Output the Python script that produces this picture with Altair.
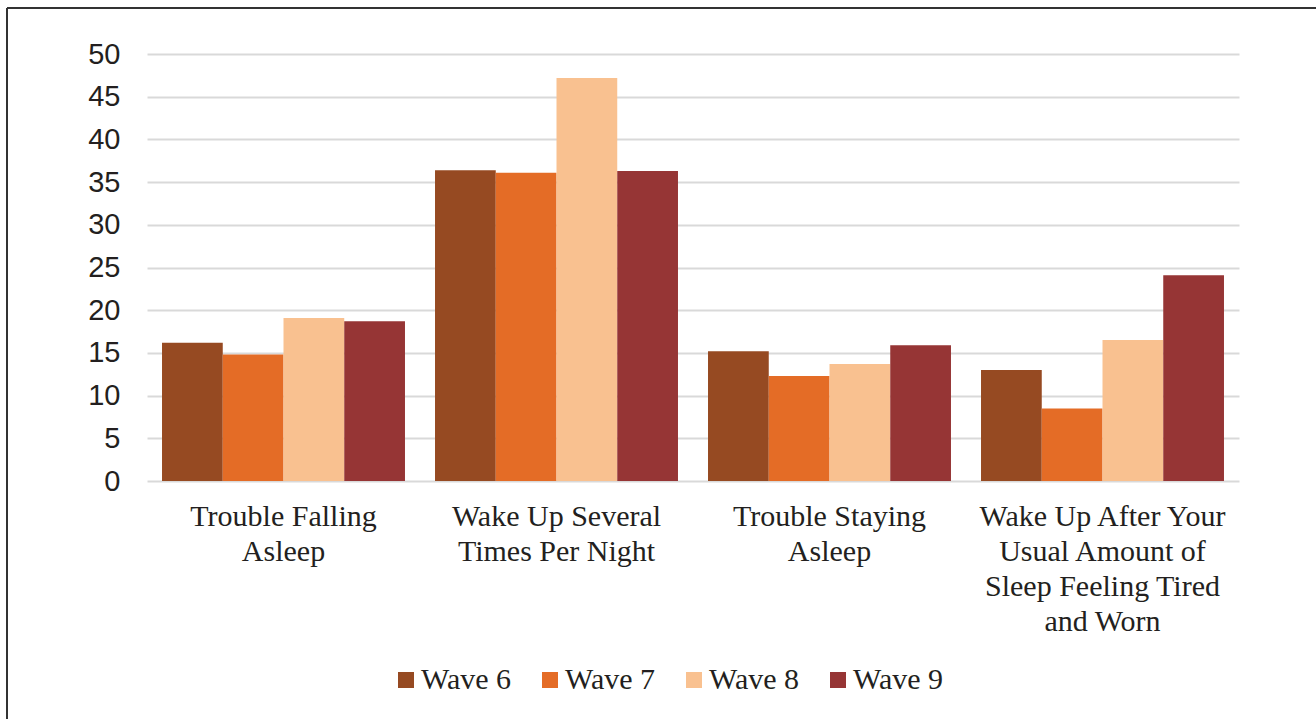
import altair as alt
import pandas as pd

categories = [
    "Trouble Falling Asleep",
    "Wake Up Several Times Per Night",
    "Trouble Staying Asleep",
    "Wake Up After Your Usual Amount of Sleep Feeling Tired and Worn",
]
label_lines = [
    ["Trouble Falling", "Asleep"],
    ["Wake Up Several", "Times Per Night"],
    ["Trouble Staying", "Asleep"],
    ["Wake Up After Your", "Usual Amount of", "Sleep Feeling Tired", "and Worn"],
]
waves = ["Wave 6", "Wave 7", "Wave 8", "Wave 9"]
wave6 = [16.2, 36.4, 15.2, 13.0]
wave7 = [14.8, 36.1, 12.3, 8.5]
wave8 = [19.1, 47.2, 13.7, 16.5]
wave9 = [18.7, 36.3, 15.9, 24.1]
colors = ["#964a22", "#e46c26", "#f9c190", "#963535"]

rows = []
for series, name in zip([wave6, wave7, wave8, wave9], waves):
    for cat, v in zip(categories, series):
        rows.append({"category": cat, "wave": name, "value": v})
df = pd.DataFrame(rows)

# Build label expression for multi-line labels
expr = "''"
for cat, lines in reversed(list(zip(categories, label_lines))):
    arr = "[" + ",".join("'" + l + "'" for l in lines) + "]"
    expr = f"datum.label == '{cat}' ? {arr} : ({expr})"

TEXT = "#231f20"

bars = alt.Chart(df).mark_bar().encode(
    x=alt.X(
        "category:N",
        sort=categories,
        scale=alt.Scale(paddingInner=0.11, paddingOuter=0.055),
        axis=alt.Axis(
            title=None,
            labelExpr=expr,
            labelAngle=0,
            labelFont="Liberation Serif",
            labelFontSize=30,
            labelLineHeight=35,
            labelColor=TEXT,
            labelPadding=20,
            labelLimit=400,
            ticks=False,
            domain=False,
            labelBaseline="top",
        ),
    ),
    xOffset=alt.XOffset("wave:N", sort=waves, scale=alt.Scale(paddingInner=0, paddingOuter=0)),
    y=alt.Y(
        "value:Q",
        scale=alt.Scale(domain=[0, 50], nice=False),
        axis=alt.Axis(
            title=None,
            values=list(range(0, 55, 5)),
            labelFont="Liberation Sans",
            labelFontSize=29,
            labelColor=TEXT,
            labelPadding=27,
            ticks=False,
            domain=False,
            grid=True,
            gridColor="#d9d9d9",
            gridWidth=2,
        ),
    ),
    color=alt.Color(
        "wave:N",
        sort=waves,
        scale=alt.Scale(domain=waves, range=colors),
        legend=alt.Legend(
            title=None,
            orient="none",
            legendX=244,
            legendY=611,
            direction="horizontal",
            symbolType="square",
            symbolSize=256,
            symbolStrokeWidth=0,
            symbolOpacity=1,
            labelFont="Liberation Serif",
            labelFontSize=30,
            labelColor=TEXT,
            labelOffset=0,
            columnPadding=23,
            padding=0,
        ),
    ),
)

frame_df = pd.DataFrame({"k": [0]})
left_line = alt.Chart(frame_df).mark_rule(color="#333333", strokeWidth=2).encode(
    x=alt.value(-140), y=alt.value(-46), y2=alt.value(665)
)
top_line = alt.Chart(frame_df).mark_rule(color="#333333", strokeWidth=2).encode(
    x=alt.value(-140), x2=alt.value(1169), y=alt.value(-46)
)

chart = alt.layer(bars, left_line, top_line).properties(
    width=1092,
    height=427,
    autosize=alt.AutoSizeParams(type="none"),
    padding={"left": 147, "top": 54, "right": 77, "bottom": 238},
    background="white",
).configure_view(stroke=None)

chart.save("out.html", embed_options={"renderer": "svg", "actions": False})
